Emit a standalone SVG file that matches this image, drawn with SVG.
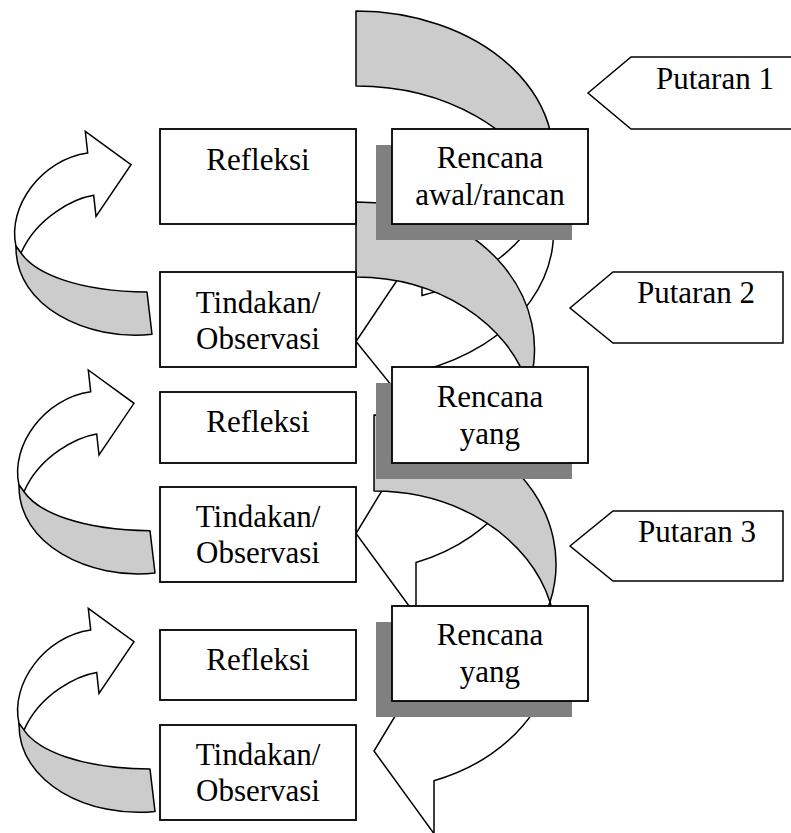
<svg xmlns="http://www.w3.org/2000/svg" xmlns:xlink="http://www.w3.org/1999/xlink" width="791" height="833" viewBox="0 0 791 833">
<style>
.box{fill:#fff;stroke:#000;stroke-width:1.8}
.shadow{fill:#808080}
.back{fill:#ccc;stroke:#000;stroke-width:1.5;stroke-linejoin:round}
.front{fill:#fff;stroke:#000;stroke-width:1.5;stroke-linejoin:miter}
.tag{fill:#fff;stroke:#000;stroke-width:1.5}
.lbl{font-family:"Liberation Serif","Times New Roman",serif;font-size:31px;fill:#000;text-anchor:middle}
.tl{font-family:"Liberation Serif","Times New Roman",serif;font-size:31px;fill:#000}
</style>
<defs>
<g id="leftArrow">
<path class="front" d="M19,485 C10,445 45,398 90.7,391.7 L88.3,370 L134,403.3 L99,455 L96.7,434 C78,437 40,455 24,491.7 Z"/>
<path class="back" d="M19,485 L24,491.7 C38,512 80,530 150,530.7 L155,573 C90,580 18,545 19,485 Z"/>
</g>
</defs>
<rect x="0" y="0" width="791" height="833" fill="#fff"/>
<g id="connectors">
<g id="cycle1-arrow">
<path class="back" d="M356,11 A197.5 146.5 0 0 1 546.9,195 A197.5 146.5 0 0 0 356,86 Z"/>
<path class="front" d="M546.9,195 A197.5 146.5 0 0 1 422,370.6 L422,423.1 L356,341.5 L422,243.1 L422,295.6 A197.5 146.5 0 0 0 546.9,195 Z"/>
</g>
<g id="cycle2-arrow">
<path class="back" d="M356,202 A178.5 147 0 0 1 528.6,386.5 A178.5 147 0 0 0 356,277 Z"/>
<path class="front" d="M528.6,386.5 A178.5 147 0 0 1 416,562.45 L416,615.45 L356,533.5 L416,434.45 L416,487.45 A178.5 147 0 0 0 528.6,386.5 Z"/>
</g>
<g id="cycle3-arrow">
<path class="back" d="M374,415 A182 149 0 0 1 550,602 A182 149 0 0 0 374,491 Z"/>
<path class="front" d="M550,602 A182 149 0 0 1 434,780.67 L434,833.67 L374,751 L434,651.67 L434,704.67 A182 149 0 0 0 550,602 Z"/>
</g>
<use id="left-arrow-1" xlink:href="#leftArrow" href="#leftArrow" transform="translate(-3,-238.7)"/>
<use id="left-arrow-2" xlink:href="#leftArrow" href="#leftArrow"/>
<use id="left-arrow-3" xlink:href="#leftArrow" href="#leftArrow" transform="translate(0,238.4)"/>
</g>
<g id="putaran1">
<polygon class="tag" points="588,93 631,57 796,57 796,129 631,129"/>
<text class="tl" x="656" y="89">Putaran 1</text>
</g>
<g id="putaran2">
<polygon class="tag" points="570,308 613,272 783,272 783,343 613,343"/>
<text class="tl" x="637" y="303">Putaran 2</text>
</g>
<g id="putaran3">
<polygon class="tag" points="570,546 613,511 783,511 783,581 613,581"/>
<text class="tl" x="638" y="542">Putaran 3</text>
</g>
<g id="rencana1">
<rect class="shadow" x="376" y="145" width="196" height="95"/>
<rect class="box" x="392" y="129" width="196" height="95"/>
<text class="lbl" x="490" y="168">Rencana</text>
<text class="lbl" x="490" y="205">awal/rancan</text>
</g>
<g id="rencana2">
<rect class="shadow" x="376" y="383" width="196" height="96"/>
<rect class="box" x="392" y="367" width="196" height="96"/>
<text class="lbl" x="490" y="407">Rencana</text>
<text class="lbl" x="490" y="444">yang</text>
</g>
<g id="rencana3">
<rect class="shadow" x="376" y="622" width="196" height="95"/>
<rect class="box" x="392" y="606" width="196" height="95"/>
<text class="lbl" x="490" y="645">Rencana</text>
<text class="lbl" x="490" y="682">yang</text>
</g>
<g id="refleksi1">
<rect class="box" x="160" y="129" width="196" height="95"/>
<text class="lbl" x="258" y="169.5">Refleksi</text>
</g>
<g id="tindakan1">
<rect class="box" x="160" y="272" width="196" height="95"/>
<text class="lbl" x="258" y="312.5">Tindakan/</text>
<text class="lbl" x="258" y="349">Observasi</text>
</g>
<g id="refleksi2">
<rect class="box" x="160" y="392" width="196" height="71"/>
<text class="lbl" x="258" y="431.7">Refleksi</text>
</g>
<g id="tindakan2">
<rect class="box" x="160" y="487" width="196" height="95"/>
<text class="lbl" x="258" y="526.7">Tindakan/</text>
<text class="lbl" x="258" y="563.3">Observasi</text>
</g>
<g id="refleksi3">
<rect class="box" x="160" y="630" width="196" height="70"/>
<text class="lbl" x="258" y="669.7">Refleksi</text>
</g>
<g id="tindakan3">
<rect class="box" x="160" y="725" width="196" height="95"/>
<text class="lbl" x="258" y="764.7">Tindakan/</text>
<text class="lbl" x="258" y="801.3">Observasi</text>
</g>
</svg>
